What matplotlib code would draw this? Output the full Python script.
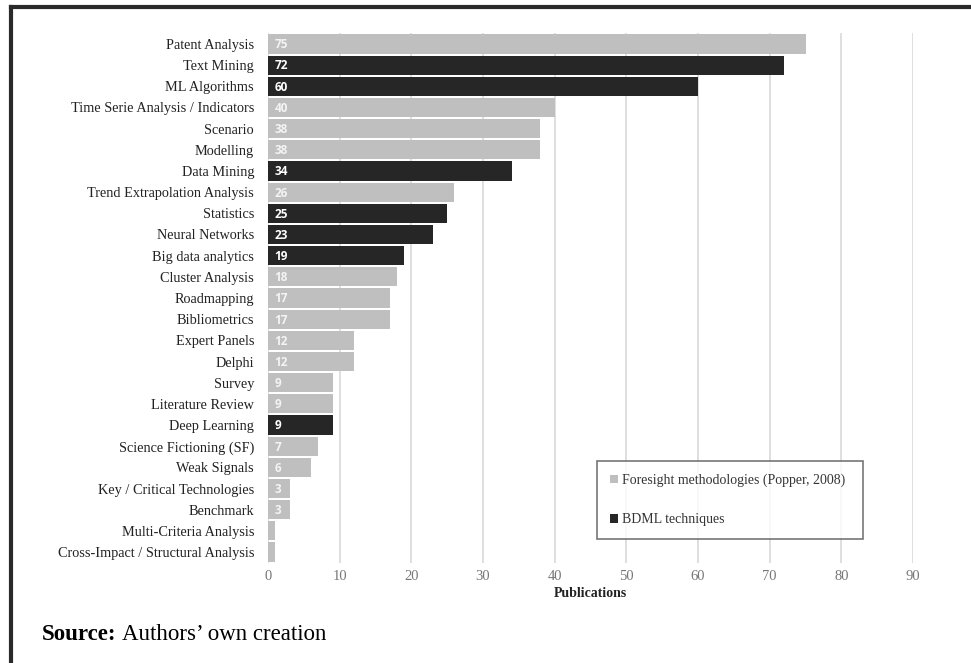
import matplotlib
matplotlib.use("Agg")
import matplotlib.pyplot as plt
from matplotlib.lines import Line2D
from matplotlib.patches import Patch

categories = ["Patent Analysis", "Text Mining", "ML Algorithms", "Time Serie Analysis / Indicators",
              "Scenario", "Modelling", "Data Mining", "Trend Extrapolation Analysis", "Statistics",
              "Neural Networks", "Big data analytics", "Cluster Analysis", "Roadmapping",
              "Bibliometrics", "Expert Panels", "Delphi", "Survey", "Literature Review",
              "Deep Learning", "Science Fictioning (SF)", "Weak Signals",
              "Key / Critical Technologies", "Benchmark", "Multi-Criteria Analysis",
              "Cross-Impact / Structural Analysis"]
values = [75, 72, 60, 40, 38, 38, 34, 26, 25, 23, 19, 18, 17, 17, 12, 12, 9, 9, 9, 7, 6, 3, 3, 1, 1]
is_bdml = [False, True, True, False, False, False, True, False, True, True, True, False, False,
           False, False, False, False, False, True, False, False, False, False, False, False]
xticks = [0, 10, 20, 30, 40, 50, 60, 70, 80, 90]
legend_labels = ["Foresight methodologies (Popper, 2008)", "BDML techniques"]

LIGHT = "#bfbfbf"
DARK = "#262626"
serif = "Liberation Serif"

fig = plt.figure(figsize=(9.71, 6.63), dpi=100)
ax = fig.add_axes([268/971, 1 - 562.6/663, (913-268)/971, (562.6-33.4)/663])

ypos = list(range(len(categories)))
colors = [DARK if b else LIGHT for b in is_bdml]
ax.barh(ypos, values, height=0.9, color=colors, zorder=2)
for y, v, b in zip(ypos, values, is_bdml):
    if v > 1:
        ax.text(0.9, y + 0.04, str(v), color="white" if b else "#f4f4f4", fontsize=8.5,
                fontweight="bold", family="Open Sans", va="center", ha="left", zorder=3)

ax.set_ylim(len(categories) - 0.5, -0.5)
ax.set_xlim(0, 90)
ax.set_yticks(ypos)
ax.set_yticklabels(categories, family=serif, fontsize=10.3, color="#222222")
ax.set_xticks(xticks)
ax.set_xticklabels([str(t) for t in xticks], family=serif, fontsize=10.5, color="#777777")
ax.tick_params(axis="both", length=0)
ax.tick_params(axis="y", pad=10)
ax.tick_params(axis="x", pad=5)
ax.grid(axis="x", color="#d9d9d9", linewidth=1.2, zorder=0)
ax.set_axisbelow(True)
for s in ax.spines.values():
    s.set_visible(False)
ax.set_xlabel("Publications", family=serif, fontsize=10, fontweight="bold", labelpad=3,
              color="#222222")

handles = [Patch(facecolor=LIGHT, edgecolor="none"), Patch(facecolor=DARK, edgecolor="none")]
leg = ax.legend(handles, legend_labels, loc="lower left",
                bbox_to_anchor=((597-268)/(913-268), (562.6-539)/(562.6-33.4),
                                (863-597)/(913-268), (539-458)/(562.6-33.4)),
                mode="expand", prop={"family": serif, "size": 10}, frameon=True,
                fancybox=False, edgecolor="#555555", handlelength=0.6, handleheight=0.6,
                handletextpad=0.3, labelspacing=1.9, borderaxespad=0, borderpad=0.9,
                labelcolor="#333333")
leg.get_frame().set_linewidth(1.2)

# outer frame (top and left edges)
fig.add_artist(Line2D([11/971, 1], [1 - 7/663, 1 - 7/663], color="#2a2a2a", linewidth=3,
                      transform=fig.transFigure))
fig.add_artist(Line2D([11/971, 11/971], [0, 1 - 7/663], color="#2a2a2a", linewidth=3,
                      transform=fig.transFigure))

t1 = fig.text(42/971, 1 - 634/663, "Source:", family=serif, fontsize=16.5, fontweight="bold",
              va="center", ha="left")
renderer = fig.canvas.get_renderer()
bb = t1.get_window_extent(renderer)
fig.text((bb.x1 + 5) / 971, 1 - 634/663, "Authors\u2019 own creation", family=serif,
         fontsize=16.5, va="center", ha="left")

fig.savefig("out.png", dpi=100)
